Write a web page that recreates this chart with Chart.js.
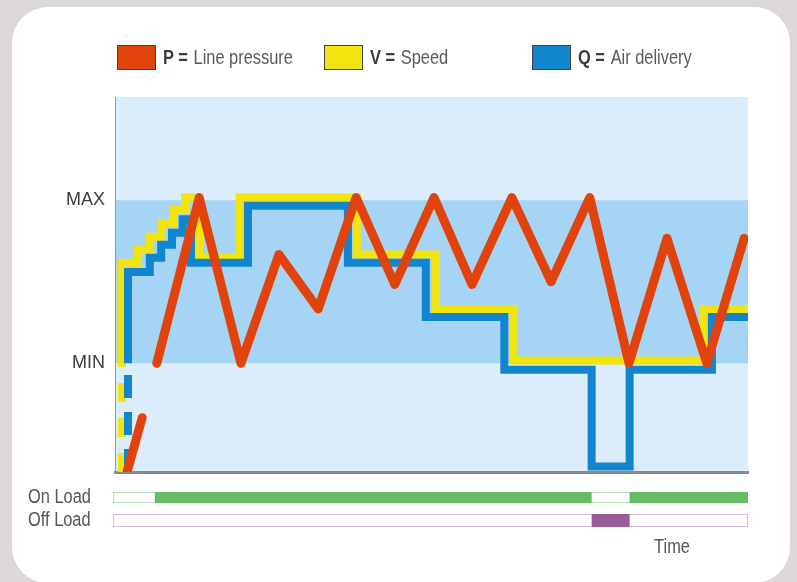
<!DOCTYPE html>
<html>
<head>
<meta charset="utf-8">
<script src="https://cdn.jsdelivr.net/npm/chart.js@4.4.0/dist/chart.umd.min.js"></script>
<style>
  html, body { margin: 0; padding: 0; }
  body {
    width: 797px; height: 582px; position: relative; overflow: hidden;
    background: #dcd8d7;
    font-family: "Liberation Sans", Arial, sans-serif;
  }
  .card { position: absolute; left: 12px; top: 7px; width: 778px; height: 576px; background: #fff; border-radius: 36px; }
  canvas { position: absolute; left: 0; top: 0; }
  .legend { position: absolute; top: 45px; height: 25px; display: flex; align-items: center; }
  .legend .swatch { width: 37px; height: 23px; border: 1px solid #444; margin-right: 7px; flex: none; }
  .legend .txt {
    display: inline-block; white-space: nowrap; font-size: 20px; color: #5a5a5a;
    transform: scaleX(0.82); transform-origin: left center;
  }
  .legend b { color: #3c3c3c; margin-right: 7px; }
</style>
</head>
<body>
<div class="card"></div>
<canvas id="chart" width="797" height="582"></canvas>
<div id="legend"></div>
<script>
// time runs 0..100 across the plot, levels 0..6.9 with MIN = 2 and MAX = 5
const timeMax = 100;
const levelTop = 6.9;
const levelTicks = [2, 5];
const levelLabels = ['MIN', 'MAX'];

// P = line pressure (null = gap in the line)
const pressureTime = [1.9, 4.3, 5.5, 6.6, 13.3, 19.9, 25.9, 32.1, 38.1, 44.2, 50.4, 56.4, 62.7, 68.9, 75.0, 81.2, 87.2, 93.5, 99.4];
const pressureValue = [0, 1, null, 2, 5.05, 2, 4, 3, 5.05, 3.45, 5.05, 3.45, 5.05, 3.5, 5.05, 2, 4.3, 2, 4.3];

// V = speed, each point starts a new level
const speedTime = [1.1, 1.1, 1.1, 3.6, 5.5, 7.4, 9.3, 11.1, 13.4, 19.7, 38.2, 50.6, 62.9, 92.9, 100];
const speedValue = [0, 2, 3.85, 4.09, 4.33, 4.58, 4.82, 5.05, 3.94, 5.05, 4.0, 3.0, 2.05, 3.0, 3.0];

// Q = air delivery, each point starts a new level
const deliveryTime = [2.05, 2.05, 2.05, 5.5, 7.3, 9.0, 10.7, 12.0, 21.0, 36.8, 49.1, 61.5, 75.3, 81.3, 94.3, 100];
const deliveryValue = [0, 2, 3.68, 3.94, 4.18, 4.4, 4.65, 3.85, 4.9, 3.85, 2.85, 1.88, 0.1, 1.88, 2.85, 2.85];

// load state bars under the plot
const loadRowLabels = ['On Load', 'Off Load'];
const onLoadFrom = [6.3, 81.3];
const onLoadTo = [75.3, 100];
const offLoadFrom = [75.3];
const offLoadTo = [81.3];
const timeLabel = 'Time';
const timeLabelAt = 88;

const legendKeys = ['P', 'V', 'Q'];
const legendNames = ['Line pressure', 'Speed', 'Air delivery'];

const RED = '#e2430c';
const YELLOW = '#f2e40e';
const BLUE = '#1285cf';
const FONT = '"Liberation Sans", Arial, sans-serif';

function toPoints(xs, ys) {
  return xs.map((x, i) => ({ x, y: ys[i] }));
}

// condensed text: regular face squeezed horizontally
function narrowText(ctx, text, x, y, align) {
  ctx.save();
  ctx.translate(x, y);
  ctx.scale(0.82, 1);
  ctx.textAlign = align;
  ctx.fillText(text, 0, 0);
  ctx.restore();
}

// html legend
const legendEl = document.getElementById('legend');
const legendColors = [RED, YELLOW, BLUE];
const legendLeft = [117, 324, 532];
legendEl.innerHTML = legendKeys
  .map((k, i) => `
    <div class="legend" style="left:${legendLeft[i]}px">
      <span class="swatch" style="background:${legendColors[i]}"></span>
      <span class="txt"><b>${k} =</b>${legendNames[i]}</span>
    </div>`)
  .join('');

const bandsPlugin = {
  id: 'bands',
  beforeDraw(chart) {
    const { ctx, chartArea: a, scales: { y } } = chart;
    ctx.save();
    ctx.fillStyle = '#dbedfb';
    ctx.fillRect(a.left, a.top, a.right - a.left, a.bottom - a.top);
    const top = y.getPixelForValue(levelTicks[1]);
    const bottom = y.getPixelForValue(levelTicks[0]);
    ctx.fillStyle = '#a5d4f5';
    ctx.fillRect(a.left, top, a.right - a.left, bottom - top);
    ctx.restore();
  },
};

const loadRowsPlugin = {
  id: 'loadRows',
  afterDraw(chart) {
    const { ctx, scales: { x } } = chart;
    const left = x.getPixelForValue(0);
    const right = x.getPixelForValue(timeMax);
    const rows = [
      { top: 492, h: 11, edge: '#b7dcb7', fill: '#66bb66', from: onLoadFrom, to: onLoadTo },
      { top: 514, h: 13, edge: '#d2bddb', fill: '#9a5b9b', from: offLoadFrom, to: offLoadTo },
    ];
    ctx.save();
    ctx.font = `20px ${FONT}`;
    ctx.textBaseline = 'middle';
    rows.forEach((r, i) => {
      ctx.fillStyle = '#fff';
      ctx.fillRect(left, r.top, right - left, r.h);
      ctx.strokeStyle = r.edge;
      ctx.lineWidth = 1;
      ctx.strokeRect(left - 1.5, r.top + 0.5, right - left + 1, r.h - 1);
      ctx.fillStyle = r.fill;
      r.from.forEach((f, j) => {
        const x0 = x.getPixelForValue(f);
        const x1 = x.getPixelForValue(r.to[j]);
        ctx.fillRect(x0, r.top, x1 - x0, r.h);
      });
      ctx.fillStyle = '#555';
      narrowText(ctx, loadRowLabels[i], 28, r.top + r.h / 2, 'left');
    });
    narrowText(ctx, timeLabel, x.getPixelForValue(timeLabelAt), 547, 'center');
    ctx.restore();
  },
};

const firstSegmentDash = (dash) => (c) => (c.p0DataIndex === 0 ? dash : undefined);

new Chart(document.getElementById('chart'), {
  type: 'line',
  data: {
    datasets: [
      {
        label: 'P = Line pressure',
        data: toPoints(pressureTime, pressureValue),
        borderColor: RED,
        borderWidth: 9,
        borderJoinStyle: 'round',
        borderCapStyle: 'round',
        order: 0,
      },
      {
        label: 'V = Speed',
        data: toPoints(speedTime, speedValue),
        borderColor: YELLOW,
        borderWidth: 8,
        stepped: 'before',
        segment: { borderDash: firstSegmentDash([19, 16]) },
        order: 2,
      },
      {
        label: 'Q = Air delivery',
        data: toPoints(deliveryTime, deliveryValue),
        borderColor: BLUE,
        borderWidth: 8,
        stepped: 'before',
        segment: { borderDash: firstSegmentDash([23, 14]) },
        order: 1,
      },
    ],
  },
  options: {
    responsive: false,
    animation: false,
    devicePixelRatio: 1,
    layout: { padding: { left: 15, top: 97, right: 49, bottom: 110 } },
    elements: { point: { radius: 0 }, line: { tension: 0 } },
    plugins: { legend: { display: false }, tooltip: { enabled: false } },
    scales: {
      x: {
        type: 'linear',
        min: 0,
        max: timeMax,
        ticks: { display: false },
        grid: { display: false, drawTicks: false },
        border: { color: '#8a8a8a', width: 3 },
        afterFit(scale) { scale.height = 0; },
      },
      y: {
        min: 0,
        max: levelTop,
        afterBuildTicks(scale) { scale.ticks = levelTicks.map((v) => ({ value: v })); },
        ticks: {
          autoSkip: false,
          padding: 10,
          color: '#3c3c3c',
          font: { family: FONT, size: 18 },
          callback(value) { return levelLabels[levelTicks.indexOf(value)]; },
        },
        grid: { display: false, drawTicks: false },
        border: { color: '#9a9a9a', width: 1 },
        afterFit(scale) { scale.width = 100; },
      },
    },
  },
  plugins: [bandsPlugin, loadRowsPlugin],
});
</script>
</body>
</html>
